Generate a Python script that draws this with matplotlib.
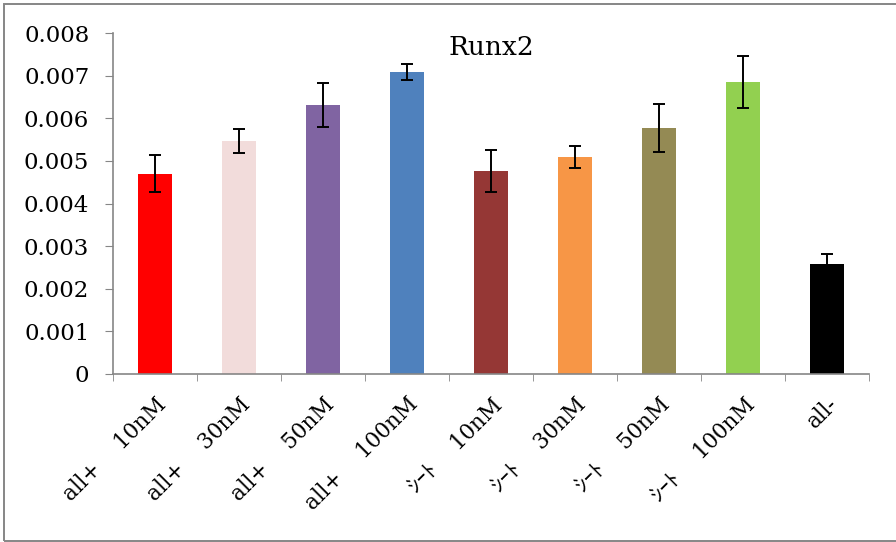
import matplotlib.pyplot as plt
import numpy as np
from matplotlib.patches import Rectangle

labels = ["all+\u3000 10nM", "all+\u3000 30nM", "all+\u3000 50nM", "all+\u3000 100nM",
          "ｼｰﾄ\u3000 10nM", "ｼｰﾄ\u3000 30nM", "ｼｰﾄ\u3000 50nM", "ｼｰﾄ\u3000 100nM", "all-"]
values = [0.00470, 0.00547, 0.00631, 0.00709, 0.00476, 0.00509, 0.00577, 0.00685, 0.00258]
errors = [0.00043, 0.00028, 0.00052, 0.00019, 0.00050, 0.00026, 0.00056, 0.00061, 0.00024]
colors = ["#FF0000", "#F2DCDB", "#8064A2", "#4F81BD", "#953735",
          "#F79646", "#948A54", "#92D050", "#000000"]

plt.rcParams['font.family'] = ['DejaVu Serif', 'Noto Sans CJK JP']

fig = plt.figure(figsize=(8.96, 5.42), dpi=100)
ax = fig.add_axes([0.126, 0.310, 0.844, 0.629])
# outer frame of the chart area
fig.patches.append(Rectangle((3.5 / 896, 1.5 / 542), 1.0, 1 - 5.5 / 542, transform=fig.transFigure,
                             fill=False, edgecolor="#868686", linewidth=1.4))

x = np.arange(len(values))
ax.bar(x, values, width=0.41, color=colors, zorder=2)
ax.errorbar(x, values, yerr=errors, fmt='none', ecolor='black', elinewidth=1.4,
            capsize=4.5, capthick=1.4, zorder=3)

ax.set_xlim(-0.5, len(values) - 0.5)
ax.set_ylim(0, 0.008)
ax.set_yticks(np.arange(0, 0.0081, 0.001))
ax.set_yticklabels(["0"] + ["%.3f" % v for v in np.arange(0.001, 0.0081, 0.001)])
ax.tick_params(axis='y', labelsize=16.5, length=6, color="#868686", pad=11)

ax.set_xticks(x)
ax.set_xticklabels(labels, rotation=45, ha='right', va='top', rotation_mode='anchor', fontsize=15.5)
ax.tick_params(axis='x', which='major', length=0, pad=14)
ax.set_xticks(np.arange(-0.5, len(values), 1), minor=True)
ax.tick_params(axis='x', which='minor', length=5, color="#868686")

for s in ['top', 'right']:
    ax.spines[s].set_visible(False)
for s in ['left', 'bottom']:
    ax.spines[s].set_color("#868686")
    ax.spines[s].set_linewidth(1.2)

ax.text(0.5, 0.959, "Runx2", transform=ax.transAxes, ha='center', va='center', fontsize=19)

fig.savefig("out.png", dpi=100)
